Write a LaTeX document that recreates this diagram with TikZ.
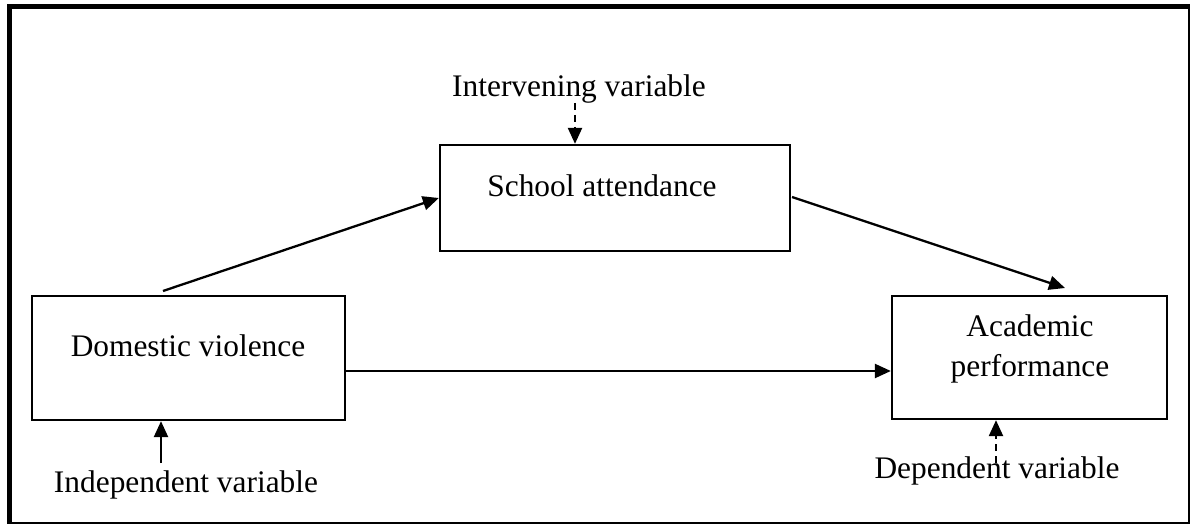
\documentclass[tikz,border=0pt]{standalone}
\usepackage{fontspec}
\setmainfont{Liberation Serif}
\usetikzlibrary{arrows.meta}
\begin{document}
\begin{tikzpicture}[x=1bp,y=-1bp,
  box/.style={draw,line width=2.3bp,rectangle,inner sep=0pt},
  lbl/.style={inner sep=0pt,anchor=base,font=\fontsize{31.5}{40}\selectfont},
  arr/.style={line width=2.3bp,-{Triangle[length=16bp,width=14bp]}},
  darr/.style={arr,dash pattern=on 7bp off 5bp}]
\useasboundingbox (0,0) rectangle (1193,526);
% frame
\draw[line width=5bp] (9.5,523) -- (9.5,6.5) -- (1190,6.5);
\draw[line width=2bp] (1189,4) -- (1189,523) -- (7,523);
% boxes
\node[box,minimum width=350bp,minimum height=106bp] (sa) at (615,198) {};
\node[box,minimum width=313bp,minimum height=124bp] (dv) at (188.5,358) {};
\node[box,minimum width=275bp,minimum height=123bp] (ap) at (1029.5,357.5) {};
% texts
\node[lbl] (tsa) at (602,197) {School attendance};
\node[lbl] (tdv) at (188,357) {Domestic violence};
\node[lbl] (tap1) at (1030,337) {Academic};
\node[lbl] (tap2) at (1030,377) {performance};
\node[lbl] (tiv) at (579,97) {Intervening variable};
\node[lbl] (tind) at (186,492) {Independent variable};
\node[lbl] (tdep) at (997,478) {Dependent variable};
% connector ends
\coordinate (c1) at (163,291);
\coordinate (c2) at (792,197);
\coordinate (c3) at (1065,288);
\coordinate (c4) at (161,463);
\coordinate (c5) at (996,463);
\coordinate (c6) at (575,103);
% arrows
\draw[arr] (c1) -- (sa.west |- 0,198);
\draw[arr] (c2) -- (c3);
\draw[arr] (dv.east |- 0,371) -- (ap.west |- 0,371);
\draw[arr] (c4) -- (c4 |- dv.south);
\draw[darr] (c5) -- (c5 |- ap.south);
\draw[darr] (c6) -- (c6 |- sa.north);
\end{tikzpicture}
\end{document}
